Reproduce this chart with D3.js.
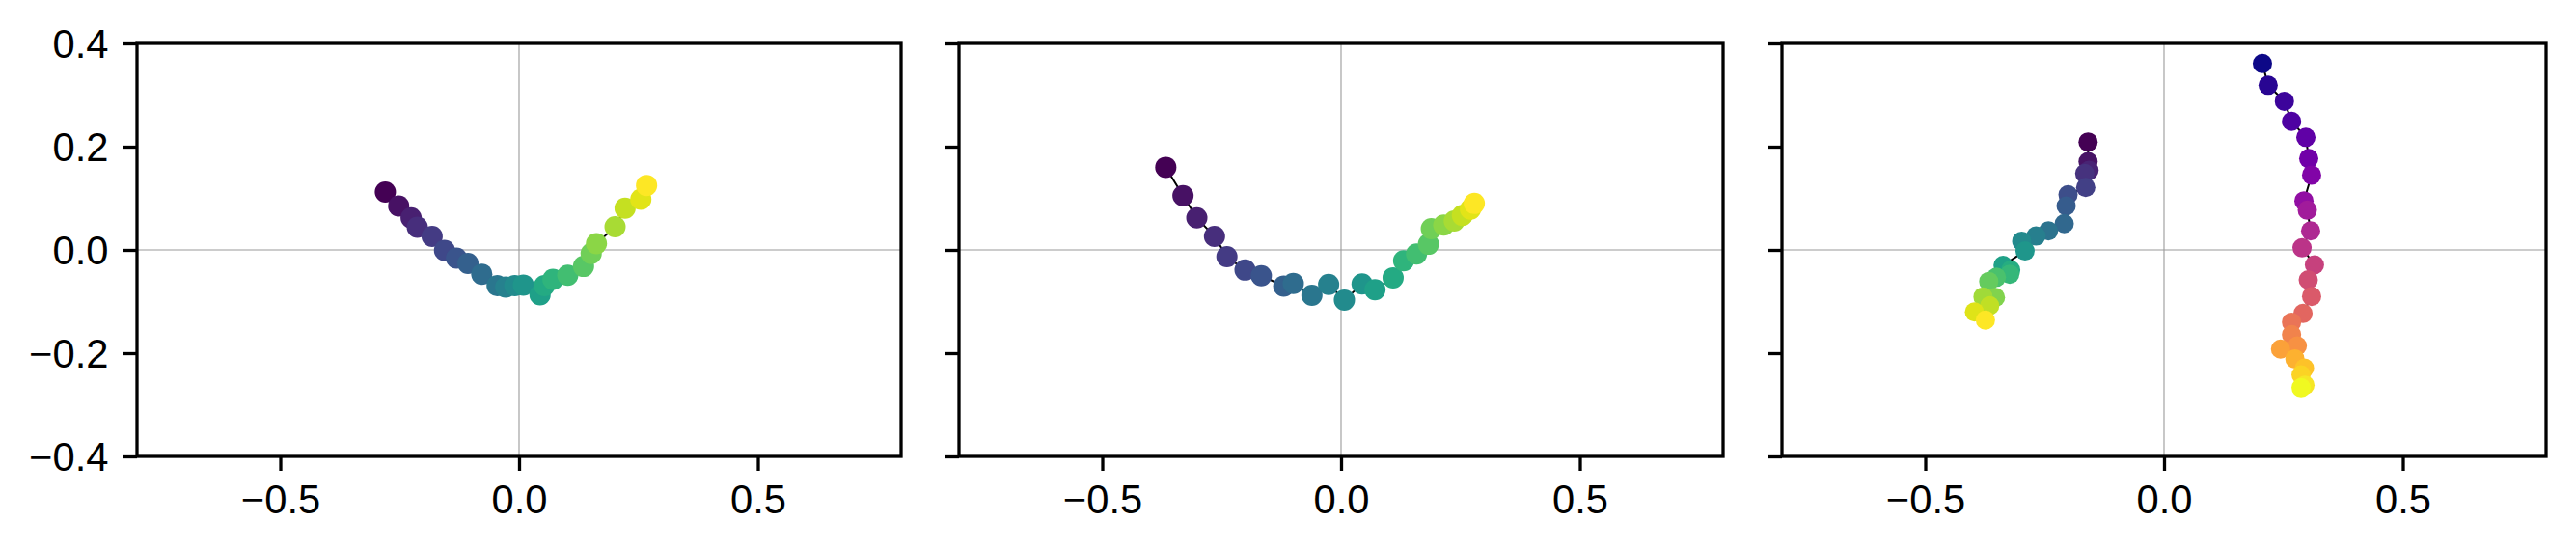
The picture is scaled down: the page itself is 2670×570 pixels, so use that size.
<!DOCTYPE html>
<html>
<head>
<meta charset="utf-8">
<script src="https://cdn.jsdelivr.net/npm/d3@7"></script>
<style>
  html, body { margin: 0; padding: 0; background: #fff; }
  svg { display: block; }
  text { font-family: "Liberation Sans", Arial, sans-serif; }
</style>
</head>
<body>
<svg id="chart" width="2670" height="570"></svg>
<script>
// ---------------- data ----------------
const panel1X = [-0.280, -0.252, -0.226, -0.213, -0.182, -0.156, -0.131, -0.107, -0.078, -0.046, -0.028, -0.009,
                  0.009, 0.044, 0.053, 0.071, 0.102, 0.135, 0.151, 0.162, 0.201, 0.222, 0.255, 0.267];
const panel1Y = [0.112, 0.085, 0.062, 0.044, 0.026, -0.001, -0.016, -0.026, -0.047, -0.069, -0.072, -0.069,
                 -0.068, -0.087, -0.069, -0.057, -0.049, -0.032, -0.007, 0.012, 0.045, 0.081, 0.098, 0.125];

const panel2X = [-0.367, -0.331, -0.302, -0.265, -0.239, -0.201, -0.167, -0.120, -0.100, -0.061, -0.026, 0.007,
                  0.044, 0.071, 0.109, 0.131, 0.158, 0.183, 0.189, 0.215, 0.237, 0.254, 0.271, 0.279];
const panel2Y = [0.160, 0.105, 0.062, 0.026, -0.013, -0.039, -0.050, -0.070, -0.065, -0.088, -0.067, -0.097,
                 -0.066, -0.077, -0.054, -0.021, -0.008, 0.011, 0.041, 0.048, 0.056, 0.067, 0.079, 0.090];

const panel3aX = [-0.159, -0.159, -0.157, -0.166, -0.164, -0.201, -0.205, -0.209, -0.242, -0.268, -0.298,
                  -0.291, -0.337, -0.321, -0.323, -0.351, -0.367, -0.353, -0.379, -0.365, -0.397, -0.374];
const panel3aY = [0.209, 0.171, 0.154, 0.148, 0.121, 0.107, 0.085, 0.051, 0.037, 0.027, 0.017,
                  -0.002, -0.030, -0.039, -0.047, -0.053, -0.061, -0.092, -0.091, -0.108, -0.120, -0.136];

const panel3bX = [0.206, 0.218, 0.252, 0.267, 0.297, 0.303, 0.309, 0.293, 0.300, 0.307, 0.289, 0.315,
                  0.302, 0.309, 0.291, 0.267, 0.267, 0.279, 0.244, 0.274, 0.294, 0.287, 0.295, 0.287];
const panel3bY = [0.361, 0.319, 0.288, 0.249, 0.218, 0.177, 0.145, 0.095, 0.077, 0.037, 0.004, -0.029,
                  -0.058, -0.090, -0.123, -0.140, -0.164, -0.186, -0.192, -0.211, -0.229, -0.242, -0.262, -0.267];

const xTicks = [-0.5, 0.0, 0.5];
const yTicks = [-0.4, -0.2, 0.0, 0.2, 0.4];
const xDomain = [-0.8, 0.8];
const yDomain = [-0.4, 0.4];

// ---------------- layout ----------------
const panelLefts = [142, 994, 1847];
const panelWidth = 792;
const plotTop = 45, plotBottom = 473;
const fontSize = 41.7;
const spineW = 3.3;
const tickLen = 15, tickPad = 14.6;

const fmt = v => d3.format(".1f")(v).replace("-", "\u2212");

const series = [
  [{x: panel1X, y: panel1Y, cmap: d3.interpolateViridis, r: 11}],
  [{x: panel2X, y: panel2Y, cmap: d3.interpolateViridis, r: 11}],
  [{x: panel3aX, y: panel3aY, cmap: d3.interpolateViridis, r: 10},
   {x: panel3bX, y: panel3bY, cmap: d3.interpolatePlasma, r: 10}]
];

const svg = d3.select("#chart");

panelLefts.forEach((left, pi) => {
  const xs = d3.scaleLinear().domain(xDomain).range([left, left + panelWidth]);
  const ys = d3.scaleLinear().domain(yDomain).range([plotBottom, plotTop]);
  const g = svg.append("g");

  // zero reference lines
  g.append("line").attr("x1", xs(xDomain[0])).attr("x2", xs(xDomain[1]))
    .attr("y1", ys(0)).attr("y2", ys(0))
    .attr("stroke", "#9a9a9a").attr("stroke-width", 1.1);
  g.append("line").attr("x1", xs(0)).attr("x2", xs(0))
    .attr("y1", ys(yDomain[0])).attr("y2", ys(yDomain[1]))
    .attr("stroke", "#9a9a9a").attr("stroke-width", 1.1);

  // connecting lines
  series[pi].forEach(s => {
    const pts = s.x.map((v, i) => [v, s.y[i]]);
    g.append("path")
      .attr("d", d3.line().x(d => xs(d[0])).y(d => ys(d[1]))(pts))
      .attr("fill", "none").attr("stroke", "#000").attr("stroke-width", 2);
  });
  // points
  series[pi].forEach(s => {
    const n = s.x.length;
    const pts = s.x.map((v, i) => ({x: v, y: s.y[i], c: s.cmap(i / (n - 1))}));
    g.selectAll(null).data(pts).enter().append("circle")
      .attr("cx", d => xs(d.x)).attr("cy", d => ys(d.y)).attr("r", s.r)
      .attr("fill", d => d.c);
  });

  // frame
  g.append("rect").attr("x", left).attr("y", plotTop)
    .attr("width", panelWidth).attr("height", plotBottom - plotTop)
    .attr("fill", "none").attr("stroke", "#000").attr("stroke-width", spineW);

  // x axis
  const xa = g.append("g").attr("transform", `translate(0,${plotBottom})`)
    .call(d3.axisBottom(xs).tickValues(xTicks).tickFormat(fmt)
      .tickSize(tickLen).tickSizeOuter(0).tickPadding(tickPad));
  xa.select(".domain").remove();
  xa.selectAll("line").attr("stroke", "#000").attr("stroke-width", spineW);
  xa.selectAll("text").attr("font-size", fontSize).attr("fill", "#000")
    .attr("font-family", "Liberation Sans, Arial, sans-serif");

  // y axis
  const ya = g.append("g").attr("transform", `translate(${left},0)`)
    .call(d3.axisLeft(ys).tickValues(yTicks).tickFormat(pi === 0 ? fmt : () => "")
      .tickSize(tickLen).tickSizeOuter(0).tickPadding(tickPad));
  ya.select(".domain").remove();
  ya.selectAll("line").attr("stroke", "#000").attr("stroke-width", spineW);
  ya.selectAll("text").attr("font-size", fontSize).attr("fill", "#000")
    .attr("dy", "0.35em")
    .attr("font-family", "Liberation Sans, Arial, sans-serif");
});
</script>
</body>
</html>
